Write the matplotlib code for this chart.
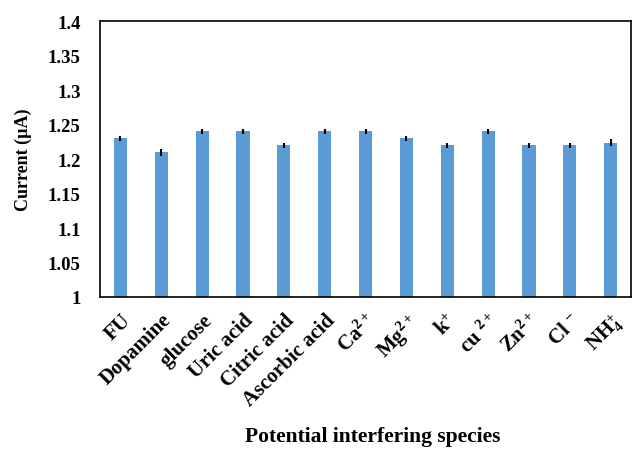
import numpy as np
import matplotlib
matplotlib.use("Agg")
from matplotlib import pyplot as plt

plt.rcParams['font.family'] = 'Liberation Serif'
plt.rcParams['font.weight'] = 'bold'
plt.rcParams['mathtext.fontset'] = 'custom'
plt.rcParams['mathtext.rm'] = 'Liberation Serif:bold'
plt.rcParams['mathtext.it'] = 'Liberation Serif:bold'
plt.rcParams['mathtext.bf'] = 'Liberation Serif:bold'

species = ['FU', 'Dopamine', 'glucose', 'Uric acid', 'Citric acid', 'Ascorbic acid',
           'Ca$^{2+}$', 'Mg$^{2+}$', 'k$^{+}$', 'cu $^{2+}$', 'Zn$^{2+}$', 'Cl $^{-}$', 'NH$_{4}^{+}$']
current = [1.23, 1.21, 1.24, 1.24, 1.22, 1.24, 1.24, 1.23, 1.22, 1.24, 1.22, 1.22, 1.224]
err = [0.004, 0.005, 0.004, 0.004, 0.004, 0.004, 0.004, 0.004, 0.004, 0.004, 0.004, 0.004, 0.005]

fig = plt.figure(figsize=(6.33, 4.56), dpi=100)
ax = fig.add_axes([0.158, 0.3465, 0.839, 0.605])

x = np.arange(len(species))
ax.bar(x, current, width=0.32, color='#5B9BD5', yerr=err, ecolor='black',
       error_kw=dict(elinewidth=1.5, capsize=0))

ax.set_ylim(1, 1.4)
ax.set_xlim(-0.5, len(species) - 0.5)
ax.set_yticks(np.arange(1, 1.401, 0.05))
ax.set_yticklabels(['1', '1.05', '1.1', '1.15', '1.2', '1.25', '1.3', '1.35', '1.4'])
ax.set_xticks(x)
ax.set_xticklabels(species, rotation=45, ha='right', rotation_mode='anchor')
ax.tick_params(axis='both', length=0)
ax.tick_params(axis='y', labelsize=13.5, pad=14)
ax.tick_params(axis='x', labelsize=15, pad=9)
for s in ax.spines.values():
    s.set_linewidth(1.2)

ax.set_ylabel('Current (µA)', fontsize=13, fontweight='bold')
ax.yaxis.set_label_coords(-0.128, 0.5)
fig.text(0.588, 0.042, 'Potential interfering species', ha='center', va='center',
         fontsize=15.5, fontweight='bold')

fig.savefig('out.png', dpi=100)
